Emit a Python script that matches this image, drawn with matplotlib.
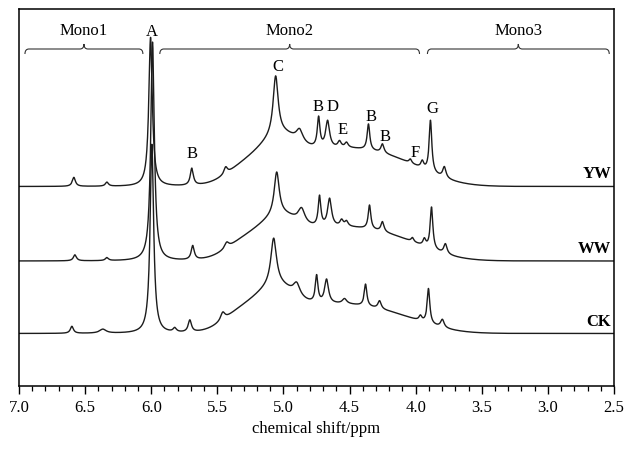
import numpy as np
import matplotlib
matplotlib.use("Agg")
import matplotlib.pyplot as plt
from matplotlib.path import Path
from matplotlib.patches import PathPatch

plt.rcParams["font.family"] = ["Liberation Serif", "DejaVu Serif"]

# --- data ---------------------------------------------------------------
# sharp signals: shift (ppm), height, half width at half height (ppm)
yw_ppm = [6.585, 6.335, 6.005, 5.693, 5.437, 5.059, 4.878, 4.734, 4.666,
          4.576, 4.523, 4.357, 4.251, 4.040, 3.950, 3.888, 3.783]
yw_height = [9, 4, 149, 17, 7, 59, 12, 30, 27, 6, 5, 26, 9, 4, 7, 52, 11]
yw_width = [0.014, 0.014, 0.016, 0.014, 0.016, 0.023, 0.03, 0.012, 0.018,
            0.015, 0.015, 0.012, 0.014, 0.012, 0.013, 0.012, 0.015]

ww_ppm = [6.577, 6.335, 5.990, 5.686, 5.429, 5.051, 4.863, 4.727, 4.651,
          4.560, 4.523, 4.349, 4.251, 4.024, 3.934, 3.880, 3.775]
ww_height = [6, 3, 219, 14, 6, 43, 14, 30, 28, 6, 5, 24, 10, 4, 7, 42, 10]
ww_width = [0.014, 0.014, 0.016, 0.014, 0.02, 0.023, 0.03, 0.012, 0.018,
            0.015, 0.015, 0.012, 0.014, 0.012, 0.013, 0.012, 0.015]

ck_ppm = [6.600, 6.366, 5.995, 5.822, 5.708, 5.459, 5.074, 4.900, 4.749,
          4.674, 4.538, 4.379, 4.273, 3.964, 3.903, 3.798]
ck_height = [7, 4, 189, 4, 12, 8, 47, 12, 27, 24, 5, 22, 8, 5, 35, 8]
ck_width = [0.014, 0.03, 0.016, 0.015, 0.015, 0.02, 0.026, 0.03, 0.012,
            0.018, 0.02, 0.012, 0.015, 0.013, 0.012, 0.016]

# broad unresolved envelope: centre (ppm), height, sigma (ppm)
yw_broad_ppm = [5.035, 5.295, 4.615, 4.115]
yw_broad_height = [30, 14, 36, 12]
yw_broad_sigma = [0.14, 0.14, 0.38, 0.25]

ww_broad_ppm = [5.035, 5.295, 4.615, 4.115]
ww_broad_height = [26, 14, 32, 10]
ww_broad_sigma = [0.14, 0.14, 0.38, 0.25]

ck_broad_ppm = [5.06, 5.32, 4.64, 4.13]
ck_broad_height = [30, 16, 28, 8]
ck_broad_sigma = [0.14, 0.14, 0.38, 0.25]

samples = ["YW", "WW", "CK"]

# peak letters: label, shift (ppm)
letter_text = ["A", "B", "C", "B", "D", "E", "B", "B", "F", "G"]
letter_ppm = [5.995, 5.69, 5.045, 4.735, 4.63, 4.555, 4.34, 4.235, 4.005, 3.875]

# regions: name, from, to (ppm)
region_text = ["Mono1", "Mono2", "Mono3"]
region_start = [6.955, 5.935, 3.911]
region_end = [6.063, 3.971, 2.536]

# --- layout / style -------------------------------------------------------
offsets = {"YW": 199.5, "WW": 125.0, "CK": 52.5}
letter_y = [354.5, 232, 319, 279, 279, 256, 269, 249, 233, 277]
LINE = "#1c1c1c"
FS = 12


def spectrum(x, ppm, height, width, b_ppm, b_height, b_sigma):
    y = np.zeros_like(x)
    for c, h, w in zip(ppm, height, width):
        y += h / (1 + ((x - c) / w) ** 2)
    for c, h, s in zip(b_ppm, b_height, b_sigma):
        y += h * np.exp(-((x - c) ** 2) / (2 * s ** 2))
    return y


def brace(ax, x0, x1, yb, dx=0.03, dy=5):
    xm = (x0 + x1) / 2
    s = 1 if x0 > x1 else -1
    verts = [(x0, yb - dy), (x0, yb), (x0 - s * dx, yb),
             (xm + s * dx, yb), (xm, yb), (xm, yb + dy),
             (xm, yb), (xm - s * dx, yb),
             (x1 + s * dx, yb), (x1, yb), (x1, yb - dy)]
    codes = [Path.MOVETO, Path.CURVE3, Path.CURVE3,
             Path.LINETO, Path.CURVE3, Path.CURVE3,
             Path.CURVE3, Path.CURVE3,
             Path.LINETO, Path.CURVE3, Path.CURVE3]
    ax.add_patch(PathPatch(Path(verts, codes), fill=False, ec="#333333", lw=0.8))


x = np.linspace(2.5, 7.0, 4000)
traces = {
    "YW": spectrum(x, yw_ppm, yw_height, yw_width, yw_broad_ppm, yw_broad_height, yw_broad_sigma),
    "WW": spectrum(x, ww_ppm, ww_height, ww_width, ww_broad_ppm, ww_broad_height, ww_broad_sigma),
    "CK": spectrum(x, ck_ppm, ck_height, ck_width, ck_broad_ppm, ck_broad_height, ck_broad_sigma),
}

fig = plt.figure(figsize=(6.26, 4.5), dpi=100)
ax = fig.add_axes([19 / 626, 1 - 386 / 450, 595 / 626, 377 / 450])

for name in samples:
    ax.plot(x, traces[name] + offsets[name], color=LINE, lw=1.0)
    ax.text(2.52, offsets[name] + 12, name, ha="right", va="center",
            fontsize=FS, fontweight="bold")

for t, p, yy in zip(letter_text, letter_ppm, letter_y):
    ax.text(p, yy, t, ha="center", va="center", fontsize=FS)

for t, a, b in zip(region_text, region_start, region_end):
    brace(ax, a, b, 337)
    ax.text((a + b) / 2, 355, t, ha="center", va="center", fontsize=FS)

ax.set_xlim(7.0, 2.5)
ax.set_ylim(0, 377)
ax.set_xticks(np.arange(2.5, 7.01, 0.5))
ax.set_xticks(np.arange(2.5, 7.01, 0.1), minor=True)
ax.xaxis.set_major_formatter(matplotlib.ticker.FormatStrFormatter("%.1f"))
ax.tick_params(axis="x", which="major", direction="out", length=6, width=1,
               labelsize=FS, pad=4)
ax.tick_params(axis="x", which="minor", direction="out", length=3.5, width=0.9)
ax.set_yticks([])
for sp in ax.spines.values():
    sp.set_linewidth(1.1)
ax.set_xlabel("chemical shift/ppm", fontsize=FS, labelpad=4)

fig.savefig("out.png", dpi=100)
